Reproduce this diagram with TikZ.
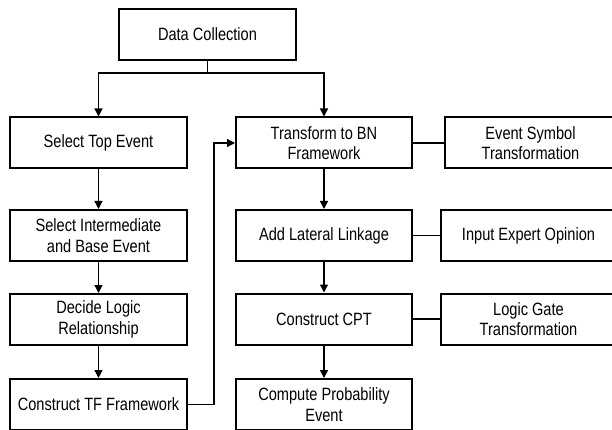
\documentclass[tikz,border=0pt]{standalone}
\usepackage{fontspec}
\setmainfont{Liberation Sans}[FakeStretch=0.82]
\usetikzlibrary{arrows.meta}
\tikzset{
  box/.style={draw, line width=2pt, minimum height=51pt, align=center,
    font=\fontsize{17.8}{20.6}\selectfont},
  lbox/.style={box, minimum width=177pt},
  rbox/.style={box, minimum width=176pt},
  sbox/.style={box, minimum width=175pt},
  link/.style={line width=1.3pt},
  arr/.style={link, -{Triangle[length=8pt,width=8pt]}}
}
\begin{document}
\begin{tikzpicture}[x=1pt,y=-1pt]
  \useasboundingbox (0,0) rectangle (612,430);
  \clip (0,0) rectangle (612,430);
  \draw
    (207.5,34.5) node[lbox] (dc){Data Collection}
    (98.5,143) node[lbox] (top){Select Top Event}
    (98.5,235.5) node[lbox] (inter){Select Intermediate\\and Base Event}
    (98.5,319.5) node[lbox] (logic){Decide Logic\\Relationship}
    (98.5,404.5) node[lbox] (tff){Construct TF Framework}
    (324,143) node[rbox] (bn){Transform to BN\\Framework}
    (324,235.5) node[rbox] (lat){Add Lateral Linkage}
    (324,319) node[rbox] (cpt){Construct CPT}
    (324,404.5) node[rbox] (prob){Compute Probability\\Event}
    (530.5,143) node[sbox, minimum width=171pt] (sym){Event Symbol\\Transformation}
    (528.5,235.5) node[sbox] (exp){Input Expert Opinion}
    (528.5,319) node[sbox] (gate){Logic Gate\\Transformation};
  \begin{scope}[arr]
    \draw (dc.south) -- ++(0,12) -| (top.north);
    \draw (dc.south) -- ++(0,12) -| (bn.north);
    \draw (top) to (inter);
    \draw (inter) to (logic);
    \draw (logic) to (tff);
    \draw (tff.east) -- ++(26,0) |- (bn.west);
    \draw (bn) to (lat);
    \draw (lat) to (cpt);
    \draw (cpt) to (prob);
  \end{scope}
  \begin{scope}[link]
    \draw (bn) to (sym);
    \draw (lat) to (exp);
    \draw (cpt) to (gate);
  \end{scope}
\end{tikzpicture}
\end{document}
